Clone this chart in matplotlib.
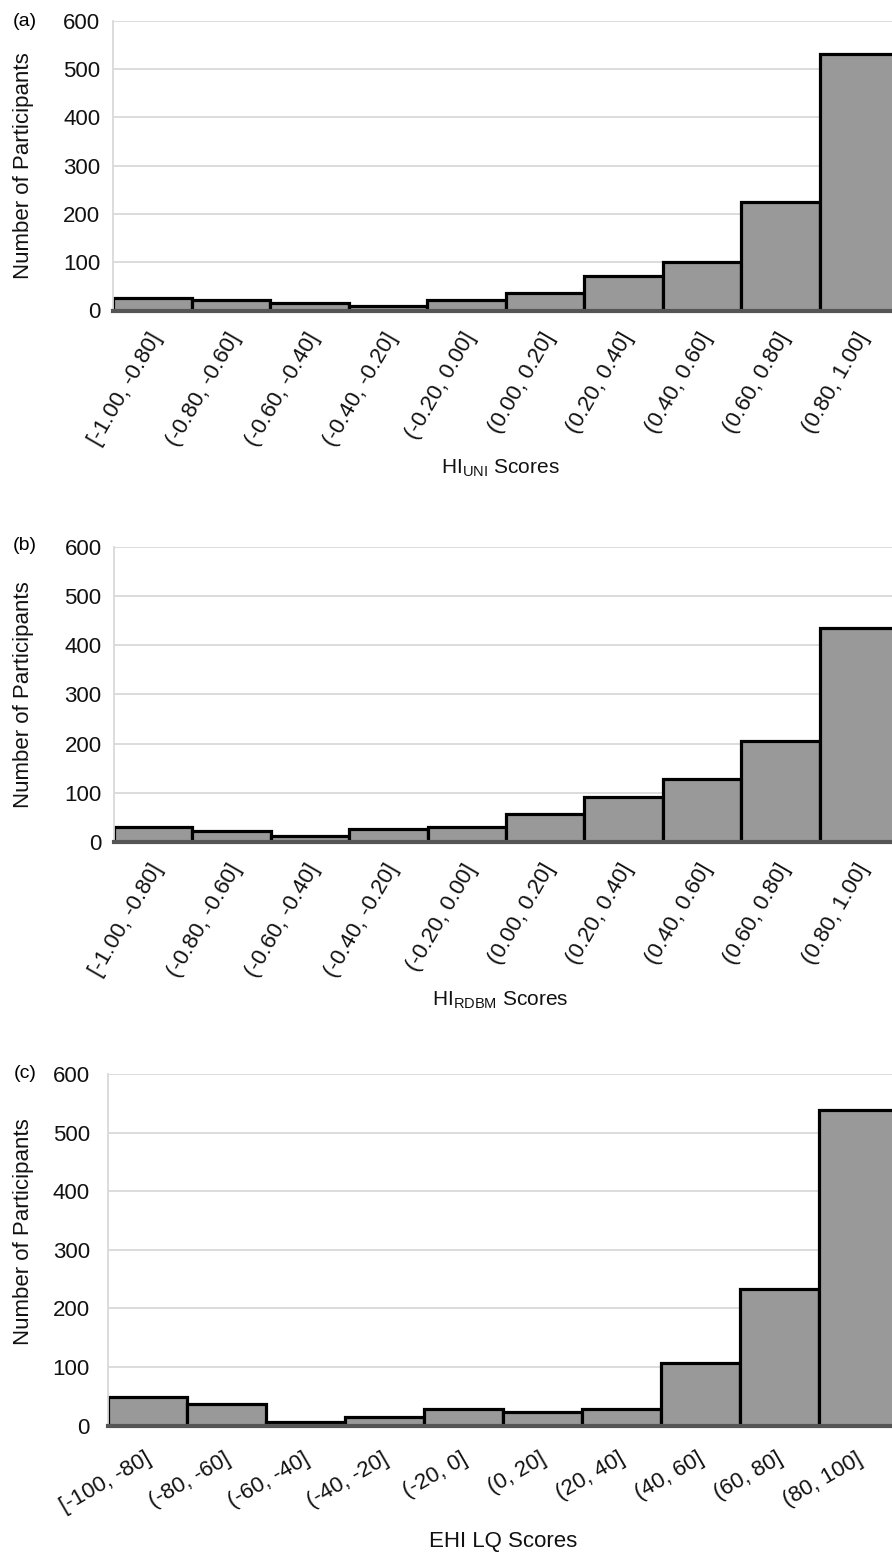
import numpy as np
import matplotlib
matplotlib.use("Agg")
import matplotlib.pyplot as plt
from matplotlib.transforms import ScaledTranslation

plt.rcParams['font.family'] = ['Liberation Sans', 'DejaVu Sans']
plt.rcParams['mathtext.fontset'] = 'custom'
plt.rcParams['mathtext.rm'] = 'Liberation Sans'
plt.rcParams['mathtext.it'] = 'Liberation Sans'

# bins
hi_bins = ['[-1.00, -0.80]', '(-0.80, -0.60]', '(-0.60, -0.40]', '(-0.40, -0.20]',
           '(-0.20, 0.00]', '(0.00, 0.20]', '(0.20, 0.40]', '(0.40, 0.60]',
           '(0.60, 0.80]', '(0.80, 1.00]']
lq_bins = ['[-100, -80]', '(-80, -60]', '(-60, -40]', '(-40, -20]', '(-20, 0]',
           '(0, 20]', '(20, 40]', '(40, 60]', '(60, 80]', '(80, 100]']

# counts
hi_uni = [26, 22, 16, 9, 22, 36, 71, 100, 224, 532]
hi_rdbm = [31, 22, 12, 27, 31, 57, 91, 128, 206, 435]
ehi_lq = [48, 36, 6, 14, 28, 23, 29, 106, 233, 539]

W, H = 892, 1553
fig = plt.figure(figsize=(W / 100, H / 100), dpi=100)


def add_axes_px(left, top, right, bottom):
    return fig.add_axes([left / W, 1 - bottom / H, (right - left) / W, (bottom - top) / H])


def draw_panel(ax, labels, counts, rot, pad, xshift):
    x = np.arange(len(counts))
    ax.bar(x, counts, width=1.0, color='#999999', edgecolor='black', linewidth=2.3, zorder=2)
    ax.set_xlim(-0.5, len(counts) - 0.5)
    ax.set_ylim(0, 600)
    ax.set_yticks(range(0, 601, 100))
    ax.grid(axis='y', color='#d9d9d9', linewidth=1.3, zorder=0)
    ax.set_axisbelow(True)
    for s in ['top', 'right']:
        ax.spines[s].set_visible(False)
    ax.spines['left'].set_color('#d9d9d9')
    ax.spines['left'].set_linewidth(1.3)
    ax.spines['bottom'].set_color('#555555')
    ax.spines['bottom'].set_linewidth(3.0)
    ax.spines['bottom'].set_zorder(3)
    ax.tick_params(axis='y', length=0, labelsize=16, pad=9, labelcolor='#111111')
    ax.tick_params(axis='x', length=0, pad=pad)
    ax.set_xticks(x)
    ax.set_xticklabels(labels, rotation=rot, ha='right', va='center',
                       rotation_mode='anchor', fontsize=16, color='#111111')
    off = ScaledTranslation(xshift / 100, 0, fig.dpi_scale_trans)
    for lbl in ax.get_xticklabels():
        lbl.set_transform(lbl.get_transform() + off)


ax_a = add_axes_px(113, 20.7, 898, 310.5)
draw_panel(ax_a, hi_bins, hi_uni, 60, 17, 5)
ax_b = add_axes_px(114, 547, 898, 842)
draw_panel(ax_b, hi_bins, hi_rdbm, 60, 17, 5)
ax_c = add_axes_px(108, 1074, 898, 1425.5)
draw_panel(ax_c, lq_bins, ehi_lq, 30, 23, 2)
ax_c.tick_params(axis='y', pad=13)

# panel letters, y labels and x labels in pixel positions
def ftext(xp, yp, s, **kw):
    fig.text(xp / W, 1 - yp / H, s, **kw)

ftext(25, 21, '(a)', fontsize=14, ha='center', va='center')
ftext(25, 546, '(b)', fontsize=14, ha='center', va='center')
ftext(25, 1073, '(c)', fontsize=14, ha='center', va='center')

for yc in [166, 695, 1232]:
    ftext(24, yc, 'Number of Participants', fontsize=16, rotation=90,
          ha='center', va='center', color='#111111')

ftext(500, 468, r'HI$_{\mathrm{UNI}}$ Scores', fontsize=15, ha='center', va='center', color='#111111')
ftext(500, 1000, r'HI$_{\mathrm{RDBM}}$ Scores', fontsize=15, ha='center', va='center', color='#111111')
ftext(503, 1542, 'EHI LQ Scores', fontsize=16, ha='center', va='center', color='#111111')

fig.savefig('out.png', dpi=100)
